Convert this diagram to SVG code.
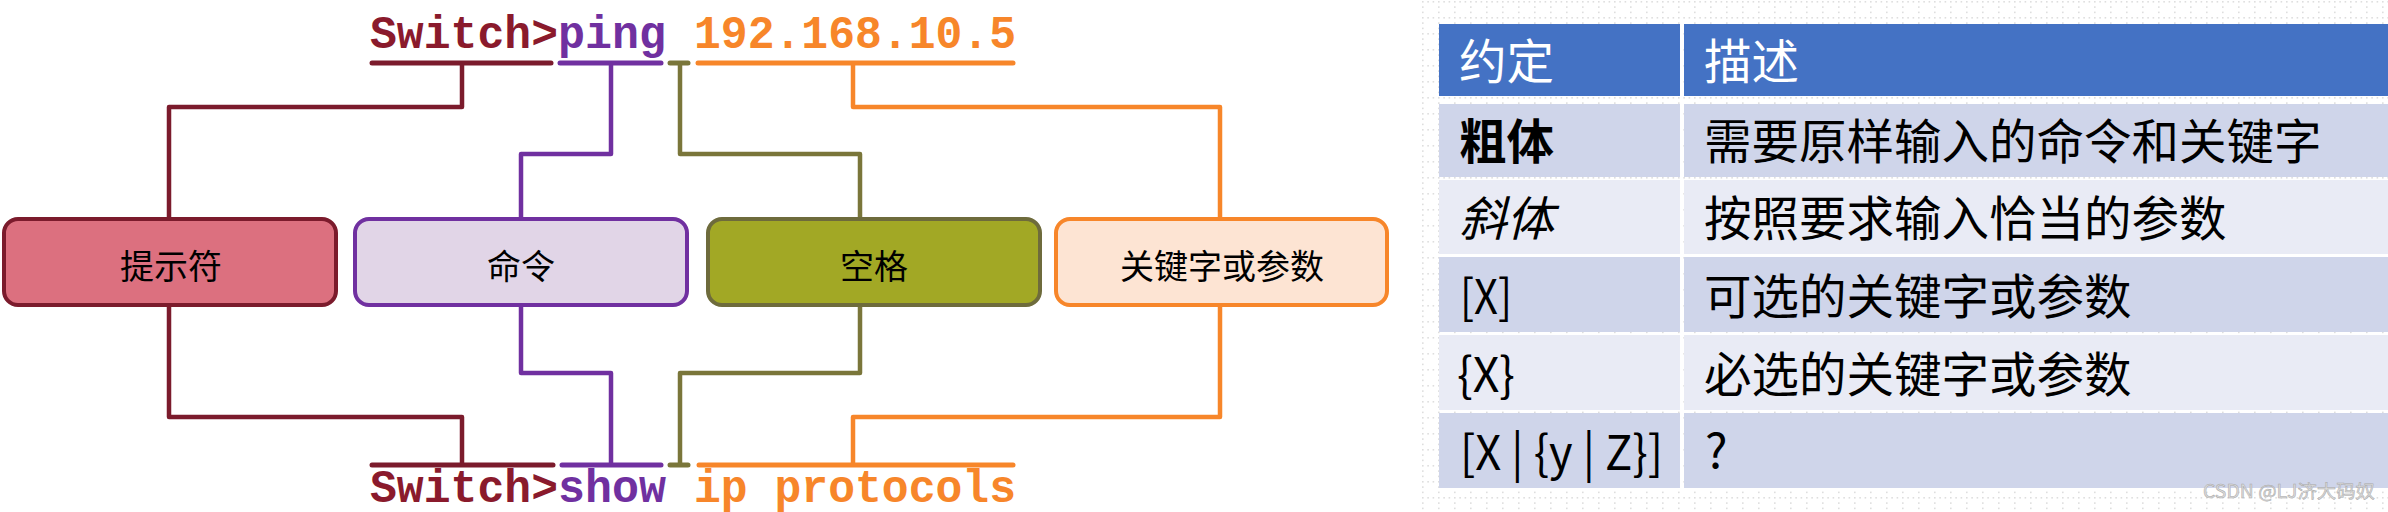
<svg xmlns="http://www.w3.org/2000/svg" width="2388" height="512" viewBox="0 0 2388 512">
<defs>
<pattern id="grid" x="1422" y="1" width="16" height="16" patternUnits="userSpaceOnUse">
<rect x="0" y="0" width="1.6" height="1.6" fill="#dedede"/>
<rect x="5.3" y="0" width="1.6" height="1.6" fill="#dedede"/>
<rect x="10.6" y="0" width="1.6" height="1.6" fill="#dedede"/>
<rect x="0" y="5.3" width="1.6" height="1.6" fill="#dedede"/>
<rect x="0" y="10.6" width="1.6" height="1.6" fill="#dedede"/>
</pattern>
<style>
.cmd{font-family:"Liberation Mono","Courier New",monospace;font-weight:bold;font-size:46px}
.ul{fill:none;stroke-width:5;stroke-linecap:round}
.cn{fill:none;stroke-width:4.5;stroke-linejoin:round;stroke-linecap:butt}
.box{stroke-width:4}
.bt{font-family:"Noto Sans CJK SC","Noto Sans",sans-serif;font-size:34px;fill:#000;text-anchor:middle}
.tt{font-family:"Noto Sans CJK SC","Noto Sans",sans-serif;font-size:47.5px;fill:#000}
.mar{stroke:#7B1B2C}.pur{stroke:#7030A0}.oli{stroke:#7A763A}.ora{stroke:#F7862A}
</style>
</defs>
<rect width="2388" height="512" fill="#ffffff"/>
<rect x="1420" y="0" width="968" height="512" fill="url(#grid)"/>

<g id="cmd-top">
<text class="cmd" x="370" y="48" fill="#8A1A2C" textLength="188" lengthAdjust="spacingAndGlyphs">Switch&gt;</text>
<text class="cmd" x="558" y="48" fill="#7030A0" textLength="108" lengthAdjust="spacingAndGlyphs">ping</text>
<text class="cmd" x="694" y="48" fill="#F7862A" textLength="322" lengthAdjust="spacingAndGlyphs">192.168.10.5</text>
</g>
<g id="cmd-bottom">
<text class="cmd" x="370" y="502" fill="#8A1A2C" textLength="188" lengthAdjust="spacingAndGlyphs">Switch&gt;</text>
<text class="cmd" x="558" y="502" fill="#7030A0" textLength="108" lengthAdjust="spacingAndGlyphs">show</text>
<text class="cmd" x="694" y="502" fill="#F7862A" textLength="322" lengthAdjust="spacingAndGlyphs">ip protocols</text>
</g>

<g id="connectors">
<line class="ul mar" x1="372" y1="63" x2="551" y2="63"/>
<line class="ul pur" x1="560" y1="63" x2="661" y2="63"/>
<line class="ul oli" x1="670" y1="63" x2="688" y2="63"/>
<line class="ul ora" x1="698" y1="63" x2="1013" y2="63"/>
<line class="ul mar" x1="372" y1="465" x2="553" y2="465"/>
<line class="ul pur" x1="562" y1="465" x2="661" y2="465"/>
<line class="ul oli" x1="670" y1="465" x2="688" y2="465"/>
<line class="ul ora" x1="699" y1="465" x2="1013" y2="465"/>
<path class="cn mar" d="M462 63 V107 H169 V219"/>
<path class="cn mar" d="M169 305 V417 H462 V465"/>
<path class="cn pur" d="M611 63 V154 H521 V219"/>
<path class="cn pur" d="M521 305 V373 H611 V465"/>
<path class="cn oli" d="M680 63 V154 H860 V219"/>
<path class="cn oli" d="M860 305 V373 H680 V465"/>
<path class="cn ora" d="M853 63 V107 H1220 V219"/>
<path class="cn ora" d="M1220 305 V417 H853 V465"/>
</g>

<g id="node-prompt">
<rect class="box" x="4" y="219" width="332" height="86" rx="14" fill="#DC707F" stroke="#7B1B2C"/>
<text class="bt" x="171" y="279">提示符</text>
</g>
<g id="node-command">
<rect class="box" x="355" y="219" width="332" height="86" rx="14" fill="#E1D5E7" stroke="#7030A0"/>
<text class="bt" x="521" y="279">命令</text>
</g>
<g id="node-space">
<rect class="box" x="708" y="219" width="332" height="86" rx="14" fill="#A2A825" stroke="#6E6B3C"/>
<text class="bt" x="874" y="279">空格</text>
</g>
<g id="node-keyword">
<rect class="box" x="1056" y="219" width="331" height="86" rx="14" fill="#FDE4D3" stroke="#F7862A"/>
<text class="bt" x="1222" y="279">关键字或参数</text>
</g>

<g id="table">
<rect x="1439" y="24" width="241" height="72" fill="#4472C4"/>
<rect x="1684" y="24" width="704" height="72" fill="#4472C4"/>
<text class="tt" x="1459" y="79" style="fill:#ffffff">约定</text>
<text class="tt" x="1704" y="79" style="fill:#ffffff">描述</text>

<rect x="1439" y="104" width="241" height="73" fill="#CFD5EA"/>
<rect x="1684" y="104" width="704" height="73" fill="#CFD5EA"/>
<text class="tt" x="1459" y="159" font-weight="bold">粗体</text>
<text class="tt" x="1704" y="159">需要原样输入的命令和关键字</text>

<rect x="1439" y="180" width="241" height="74" fill="#E9EBF5"/>
<rect x="1684" y="180" width="704" height="74" fill="#E9EBF5"/>
<text class="tt" x="1459" y="236" font-style="italic">斜体</text>
<text class="tt" x="1704" y="236">按照要求输入恰当的参数</text>

<rect x="1439" y="257" width="241" height="75" fill="#CFD5EA"/>
<rect x="1684" y="257" width="704" height="75" fill="#CFD5EA"/>
<text class="tt" x="1460" y="314" textLength="52" lengthAdjust="spacingAndGlyphs">[X]</text>
<text class="tt" x="1704" y="314">可选的关键字或参数</text>

<rect x="1439" y="335" width="241" height="75" fill="#E9EBF5"/>
<rect x="1684" y="335" width="704" height="75" fill="#E9EBF5"/>
<text class="tt" x="1457" y="392" textLength="58" lengthAdjust="spacingAndGlyphs">{X}</text>
<text class="tt" x="1704" y="392">必选的关键字或参数</text>

<rect x="1439" y="413" width="241" height="75" fill="#CFD5EA"/>
<rect x="1684" y="413" width="704" height="75" fill="#CFD5EA"/>
<text class="tt" x="1460" y="470" textLength="203" lengthAdjust="spacingAndGlyphs">[X | {y | Z}]</text>
<text class="tt" x="1705" y="468">?</text>
</g>

<text x="2203" y="498" font-family="'Noto Sans CJK SC','Noto Sans',sans-serif" font-size="18.5" fill="#dcdcdc" stroke="#a8a8a8" stroke-width="0.5" textLength="172" lengthAdjust="spacingAndGlyphs">CSDN @LJ济大码奴</text>
</svg>
